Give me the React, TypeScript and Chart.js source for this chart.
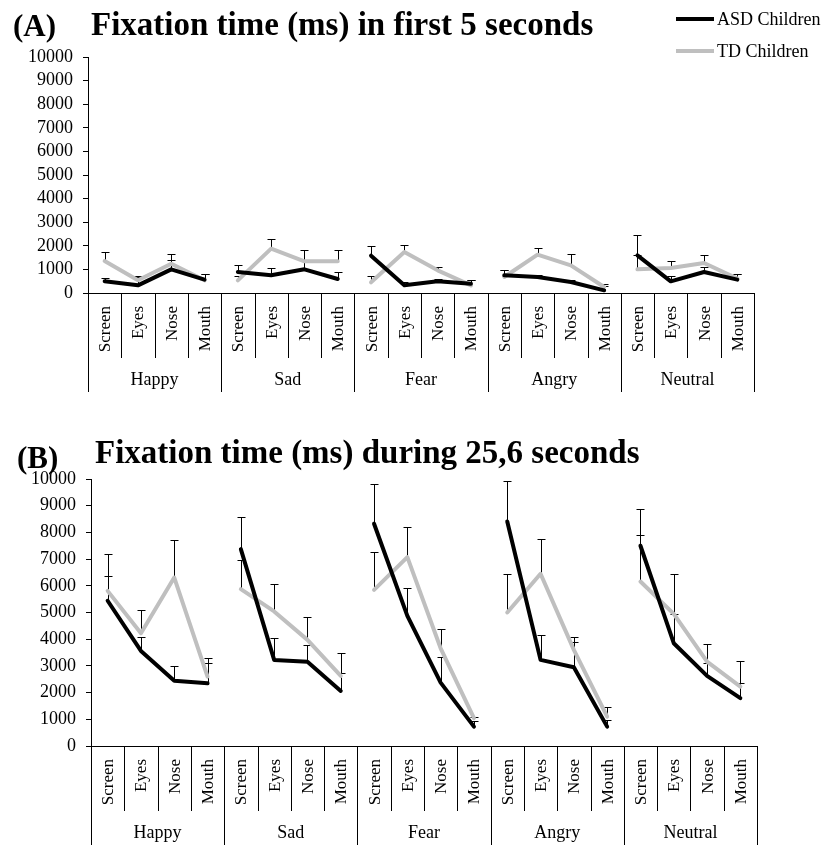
import React, { useEffect, useRef } from "react";
import { Chart, registerables } from "chart.js";

Chart.register(...registerables);

// ---------- data ----------
const emotions = ["Happy", "Sad", "Fear", "Angry", "Neutral"];
const regions = ["Screen", "Eyes", "Nose", "Mouth"];
const categoryLabels = emotions.flatMap(() => regions);
const yTickValues = [0, 1000, 2000, 3000, 4000, 5000, 6000, 7000, 8000, 9000, 10000];
const seriesNames = ["ASD Children", "TD Children"];

// (A) first 5 seconds
const asdFirst5 = [
  494, 325, 1003, 565,
  890, 749, 1003, 593,
  1582, 325, 494, 395,
  749, 678, 466, 113,
  1596, 494, 890, 565,
];
const asdFirst5Upper = [
  650, 678, 1384, 819,
  1200, 1059, 1412, 890,
  1992, 450, 607, 565,
  989, 777, 537, 282,
  2472, 706, 1102, 791,
];
const tdFirst5 = [
  1356, 537, 1243, 537,
  537, 1879, 1342, 1342,
  452, 1737, 960, 325,
  678, 1624, 1172, 254,
  1003, 1059, 1271, 607,
];
const tdFirst5Upper = [
  1723, 706, 1638, 791,
  706, 2274, 1836, 1808,
  706, 2020, 1102, 537,
  960, 1921, 1638, 367,
  1596, 1356, 1596, 819,
];

// (B) during 25,6 seconds
const asdFull = [
  5440, 3560, 2440, 2350,
  7375, 3225, 3160, 2060,
  8325, 4875, 2375, 725,
  8410, 3225, 2950, 725,
  7500, 3850, 2625, 1790,
];
const asdFullUpper = [
  6375, 4100, 3010, 3100,
  8575, 4040, 3800, 2725,
  9810, 5910, 3325, 940,
  9940, 4160, 4075, 975,
  8890, 4950, 3100, 2350,
];
const tdFull = [
  5810, 4225, 6310, 2600,
  5875, 5040, 3975, 2625,
  5850, 7075, 3660, 1040,
  5000, 6450, 3600, 1100,
  6160, 4950, 3160, 2225,
];
const tdFullUpper = [
  7175, 5100, 7700, 3290,
  6975, 6075, 4825, 3500,
  7250, 8200, 4400, 1100,
  6450, 7760, 3910, 1475,
  7890, 6450, 3810, 3200,
];

const titleA = "Fixation time (ms) in first 5 seconds";
const titleB = "Fixation time (ms) during 25,6 seconds";

// ---------- styles ----------
const SERIF = "'Liberation Serif', 'Times New Roman', serif";
const ASD_COLOR = "#000000";
const TD_COLOR = "#BFBFBF";

type PanelProps = {
  top: number;
  height: number;
  padTop: number;
  padRight: number;
  yWidth: number;
  xHeight: number;
  tag: string;
  tagX: number;
  tagY: number;
  title: string;
  titleX: number;
  titleY: number;
  asd: number[];
  asdUpper: number[];
  td: number[];
  tdUpper: number[];
  showLegend: boolean;
};

function Panel(props: PanelProps) {
  const ref = useRef<HTMLCanvasElement | null>(null);

  useEffect(() => {
    const canvas = ref.current;
    if (!canvas) return;
    const uppers = [props.asdUpper, props.tdUpper];

    const panelPlugin = {
      id: "panelDecor",
      beforeDatasetsDraw(chart: any) {
        const ctx = chart.ctx;
        const ys = chart.scales.y;
        ctx.save();
        ctx.strokeStyle = "#000";
        ctx.lineWidth = 1;
        chart.data.datasets.forEach((ds: any, di: number) => {
          const meta = chart.getDatasetMeta(di);
          meta.data.forEach((pt: any, i: number) => {
            const up = uppers[di][i];
            if (up == null) return;
            const x = Math.round(pt.x) + 0.5;
            const yTop = Math.round(ys.getPixelForValue(up)) + 0.5;
            ctx.beginPath();
            ctx.moveTo(x, pt.y);
            ctx.lineTo(x, yTop);
            ctx.moveTo(x - 4, yTop);
            ctx.lineTo(x + 4, yTop);
            ctx.stroke();
          });
        });
        ctx.restore();
      },
      afterDraw(chart: any) {
        const ctx = chart.ctx;
        const xs = chart.scales.x;
        const area = chart.chartArea;
        const n = chart.data.labels.length;
        const w = xs.getPixelForValue(1) - xs.getPixelForValue(0);
        const base = area.bottom;
        ctx.save();
        ctx.strokeStyle = "#000";
        ctx.lineWidth = 1;
        // dividers
        for (let i = 0; i <= n; i++) {
          const xb = i < n ? xs.getPixelForValue(i) - w / 2 : xs.getPixelForValue(n - 1) + w / 2;
          const x = Math.round(xb) + 0.5;
          const yEnd = i % 4 === 0 ? base + 99 : base + 65;
          ctx.beginPath();
          ctx.moveTo(x, base);
          ctx.lineTo(x, yEnd);
          ctx.stroke();
        }
        // rotated category labels
        ctx.fillStyle = "#000";
        ctx.font = `17px ${SERIF}`;
        ctx.textAlign = "right";
        ctx.textBaseline = "middle";
        for (let i = 0; i < n; i++) {
          const x = xs.getPixelForValue(i);
          ctx.save();
          ctx.translate(x + 1, base + 13);
          ctx.rotate(-Math.PI / 2);
          ctx.fillText(chart.data.labels[i], 0, 0);
          ctx.restore();
        }
        // group labels
        ctx.font = `18px ${SERIF}`;
        ctx.textAlign = "center";
        ctx.textBaseline = "middle";
        emotions.forEach((e, g) => {
          const cx = (xs.getPixelForValue(g * 4) + xs.getPixelForValue(g * 4 + 3)) / 2;
          ctx.fillText(e, cx, base + 87);
        });
        // tag and title
        ctx.textAlign = "left";
        ctx.textBaseline = "alphabetic";
        ctx.font = `bold 31px ${SERIF}`;
        ctx.fillText(props.tag, props.tagX, props.tagY);
        ctx.font = `bold 33px ${SERIF}`;
        ctx.fillText(props.title, props.titleX, props.titleY);
        // legend
        if (props.showLegend) {
          const items = [
            { name: seriesNames[0], color: ASD_COLOR, y: 19 },
            { name: seriesNames[1], color: TD_COLOR, y: 51 },
          ];
          ctx.font = `18px ${SERIF}`;
          ctx.textBaseline = "middle";
          items.forEach((it) => {
            ctx.strokeStyle = it.color;
            ctx.lineWidth = 4;
            ctx.beginPath();
            ctx.moveTo(676, it.y);
            ctx.lineTo(714, it.y);
            ctx.stroke();
            ctx.fillStyle = "#000";
            ctx.fillText(it.name, 717, it.y + 1);
          });
        }
        ctx.restore();
      },
    };

    const mkSeg = (color: string) => ({
      borderColor: (c: any) => (c.p0DataIndex % 4 === 3 ? "rgba(0,0,0,0)" : color),
    });

    const chart = new Chart(canvas, {
      type: "line",
      data: {
        labels: categoryLabels,
        datasets: [
          {
            label: seriesNames[0],
            data: props.asd,
            borderColor: ASD_COLOR,
            borderWidth: 4,
            pointRadius: 0,
            borderJoinStyle: "round",
            borderCapStyle: "round",
            tension: 0,
            segment: mkSeg(ASD_COLOR),
          } as any,
          {
            label: seriesNames[1],
            data: props.td,
            borderColor: TD_COLOR,
            borderWidth: 4,
            pointRadius: 0,
            borderJoinStyle: "round",
            borderCapStyle: "round",
            tension: 0,
            segment: mkSeg(TD_COLOR),
          } as any,
        ],
      },
      options: {
        animation: false,
        responsive: false,
        maintainAspectRatio: false,
        layout: { padding: { top: props.padTop, right: props.padRight, left: 0, bottom: 0 } },
        plugins: {
          legend: { display: false },
          tooltip: { enabled: false },
          title: { display: false },
        },
        scales: {
          x: {
            type: "category",
            offset: true,
            grid: { display: false },
            border: { display: true, color: "#000", width: 1 },
            ticks: { display: false },
            afterFit: (s: any) => {
              s.height = props.xHeight;
            },
          },
          y: {
            min: 0,
            max: 10000,
            afterBuildTicks: (s: any) => {
              s.ticks = yTickValues.map((v) => ({ value: v }));
            },
            ticks: {
              color: "#000",
              font: { family: SERIF, size: 18 },
              padding: 10,
              autoSkip: false,
              callback: (v: any) => String(v),
            },
            grid: { drawOnChartArea: false, drawTicks: true, tickLength: 5, color: "#000" },
            border: { display: true, color: "#000", width: 1 },
            afterFit: (s: any) => {
              s.width = props.yWidth;
            },
          },
        },
      } as any,
      plugins: [panelPlugin],
    });
    return () => chart.destroy();
  }, []);

  return (
    <canvas
      ref={ref}
      width={828}
      height={props.height}
      style={{ position: "absolute", left: 0, top: props.top, width: 828, height: props.height, display: "block" }}
    />
  );
}

export default function App() {
  return (
    <div style={{ position: "absolute", left: 0, top: 0, width: 828, height: 845, background: "#fff", overflow: "hidden" }}>
      <Panel
        top={0}
        height={420}
        padTop={57}
        padRight={74}
        yWidth={88}
        xHeight={127}
        tag="(A)"
        tagX={13}
        tagY={36}
        title={titleA}
        titleX={91}
        titleY={35}
        asd={asdFirst5}
        asdUpper={asdFirst5Upper}
        td={tdFirst5}
        tdUpper={tdFirst5Upper}
        showLegend={true}
      />
      <Panel
        top={420}
        height={425}
        padTop={59}
        padRight={71}
        yWidth={91}
        xHeight={99}
        tag="(B)"
        tagX={17}
        tagY={48}
        title={titleB}
        titleX={95}
        titleY={43}
        asd={asdFull}
        asdUpper={asdFullUpper}
        td={tdFull}
        tdUpper={tdFullUpper}
        showLegend={false}
      />
    </div>
  );
}
